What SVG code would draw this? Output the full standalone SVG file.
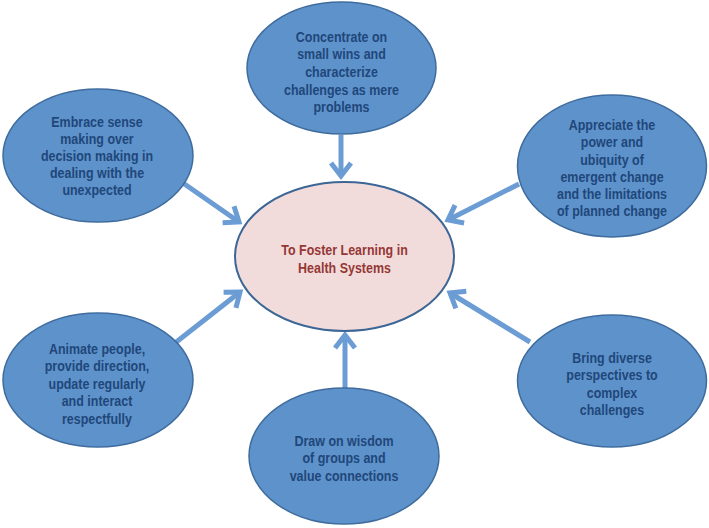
<svg xmlns="http://www.w3.org/2000/svg" width="709" height="528" viewBox="0 0 709 528">
<defs>
<style>
.outer{fill:#5e92cb;stroke:#3f6c9e;stroke-width:1.5}
.center{fill:#f2dcdb;stroke:#3b6696;stroke-width:2}
.t{font-family:"Liberation Sans",Arial,sans-serif;font-weight:bold;font-size:14.5px;text-anchor:middle;fill:#1f477a}
.tc{font-family:"Liberation Sans",Arial,sans-serif;font-weight:bold;font-size:14.5px;text-anchor:middle;fill:#953735}
.arr{stroke:#6b9cd3;stroke-width:5;fill:none;marker-end:url(#ah)}
</style>
<marker id="ah" markerUnits="userSpaceOnUse" viewBox="-20 -16 26 32" refX="0" refY="0" markerWidth="26" markerHeight="32" orient="auto">
<path d="M-13,-10 L0,0 L-13,10" fill="none" stroke="#6b9cd3" stroke-width="5" stroke-linejoin="miter" stroke-linecap="butt"/>
</marker>
</defs>
<rect width="709" height="528" fill="#ffffff"/>
<g id="connectors">
<line class="arr" x1="341" y1="135" x2="341" y2="176"/>
<line class="arr" x1="183" y1="183" x2="239" y2="222"/>
<line class="arr" x1="519" y1="184" x2="448" y2="220"/>
<line class="arr" x1="175" y1="343" x2="240" y2="292"/>
<line class="arr" x1="530" y1="342" x2="450" y2="293"/>
<line class="arr" x1="345" y1="389" x2="345" y2="335"/>
</g>
<g id="center">
<ellipse class="center" cx="344.5" cy="256.5" rx="109.5" ry="74.5"/>
<g transform="translate(344.5 0) scale(0.86 1)">
<text class="tc" x="0" y="255.5">To Foster Learning in</text>
<text class="tc" x="0" y="273">Health Systems</text>
</g>
</g>
<g id="node-top">
<ellipse class="outer" cx="341.5" cy="68" rx="94.5" ry="66"/>
<g transform="translate(341.5 0) scale(0.86 1)">
<text class="t" x="0" y="42">Concentrate on</text>
<text class="t" x="0" y="59.5">small wins and</text>
<text class="t" x="0" y="77">characterize</text>
<text class="t" x="0" y="95">challenges as mere</text>
<text class="t" x="0" y="112.5">problems</text>
</g>
</g>
<g id="node-top-left">
<ellipse class="outer" cx="98" cy="155.5" rx="95" ry="66.5"/>
<g transform="translate(97 0) scale(0.86 1)">
<text class="t" x="0" y="127">Embrace sense</text>
<text class="t" x="0" y="144">making over</text>
<text class="t" x="0" y="161">decision making in</text>
<text class="t" x="0" y="178.5">dealing with the</text>
<text class="t" x="0" y="195.5">unexpected</text>
</g>
</g>
<g id="node-top-right">
<ellipse class="outer" cx="612" cy="166" rx="94.5" ry="71"/>
<g transform="translate(612 0) scale(0.86 1)">
<text class="t" x="0" y="130">Appreciate the</text>
<text class="t" x="0" y="147.3">power and</text>
<text class="t" x="0" y="164.6">ubiquity of</text>
<text class="t" x="0" y="181.9">emergent change</text>
<text class="t" x="0" y="199.2">and the limitations</text>
<text class="t" x="0" y="216.5">of planned change</text>
</g>
</g>
<g id="node-bottom-left">
<ellipse class="outer" cx="98" cy="380" rx="95" ry="67"/>
<g transform="translate(97 0) scale(0.86 1)">
<text class="t" x="0" y="354">Animate people,</text>
<text class="t" x="0" y="371.5">provide direction,</text>
<text class="t" x="0" y="389">update regularly</text>
<text class="t" x="0" y="406.5">and interact</text>
<text class="t" x="0" y="424">respectfully</text>
</g>
</g>
<g id="node-bottom-right">
<ellipse class="outer" cx="612" cy="381" rx="94.5" ry="66"/>
<g transform="translate(612 0) scale(0.86 1)">
<text class="t" x="0" y="363">Bring diverse</text>
<text class="t" x="0" y="380.5">perspectives to</text>
<text class="t" x="0" y="398">complex</text>
<text class="t" x="0" y="415.5">challenges</text>
</g>
</g>
<g id="node-bottom">
<ellipse class="outer" cx="344" cy="456" rx="95" ry="68"/>
<g transform="translate(344 0) scale(0.86 1)">
<text class="t" x="0" y="446">Draw on wisdom</text>
<text class="t" x="0" y="463.5">of groups and</text>
<text class="t" x="0" y="481">value connections</text>
</g>
</g>
</svg>
